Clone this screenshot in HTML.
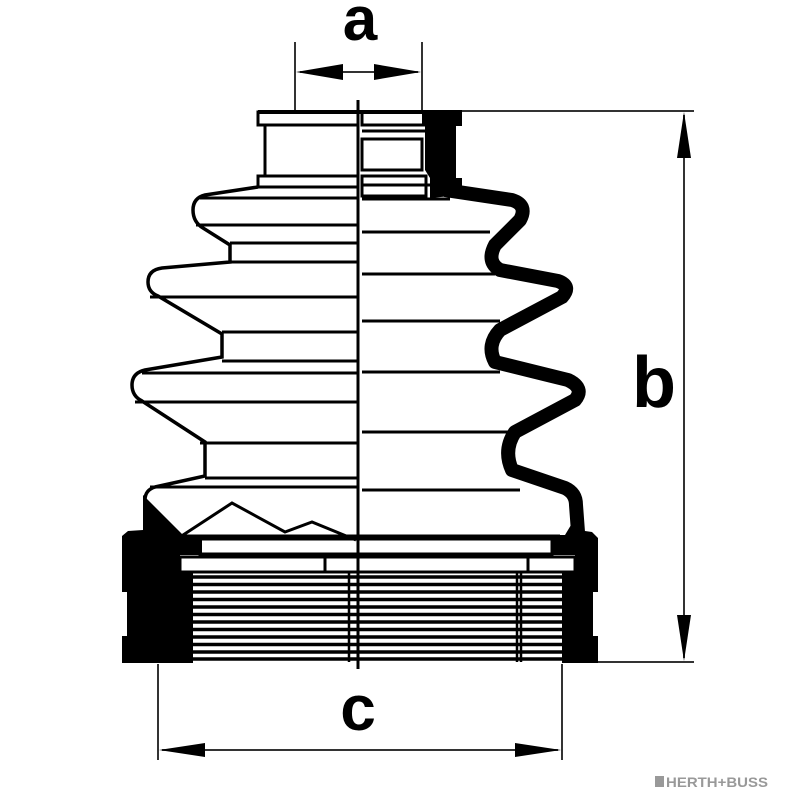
<!DOCTYPE html>
<html><head><meta charset="utf-8"><style>html,body{margin:0;padding:0;background:#fff}svg{display:block}</style></head>
<body>
<svg width="800" height="800" viewBox="0 0 800 800" xmlns="http://www.w3.org/2000/svg">
<rect width="800" height="800" fill="#fff"/>
<!-- dimension a -->
<g stroke="#333" stroke-width="2">
<line x1="295" y1="42" x2="295" y2="110"/><line x1="422" y1="42" x2="422" y2="110"/>
<line x1="300" y1="72" x2="418" y2="72"/>
</g>
<polygon points="296,72 343,64 343,80" fill="#000"/>
<polygon points="421,72 374,64 374,80" fill="#000"/>
<text x="360" y="40" font-family="Liberation Sans, sans-serif" font-weight="bold" font-size="62" text-anchor="middle">a</text>
<!-- dimension b -->
<g stroke="#333" stroke-width="2">
<line x1="455" y1="111" x2="694" y2="111"/><line x1="598" y1="662" x2="694" y2="662"/>
<line x1="684" y1="115" x2="684" y2="658"/>
</g>
<polygon points="684,112 677,158 691,158" fill="#000"/>
<polygon points="684,661 677,615 691,615" fill="#000"/>
<text x="654" y="407" font-family="Liberation Sans, sans-serif" font-weight="bold" font-size="72" text-anchor="middle">b</text>
<!-- dimension c -->
<g stroke="#333" stroke-width="2">
<line x1="158" y1="664" x2="158" y2="760"/><line x1="562" y1="664" x2="562" y2="760"/>
<line x1="162" y1="750" x2="558" y2="750"/>
</g>
<polygon points="159,750 205,743 205,757" fill="#000"/>
<polygon points="561,750 515,743 515,757" fill="#000"/>
<text x="358" y="730" font-family="Liberation Sans, sans-serif" font-weight="bold" font-size="64" text-anchor="middle">c</text>
<!-- logo -->
<rect x="655" y="776" width="9" height="11" fill="#999"/>
<text x="666" y="787" font-family="Liberation Sans, sans-serif" font-weight="bold" font-size="14" fill="#999" textLength="102" lengthAdjust="spacingAndGlyphs">HERTH+BUSS</text>

<!-- left outline -->
<path d="M258,187 L205,195 Q193,198 193,210 Q193,222 203,228 L230,245 L230,262 L162,268 Q148,270 148,282 Q148,292 158,296 L222,334 L222,357 L145,370 Q132,373 132,385 Q132,396 142,401 L205,442 L205,476 L155,487 Q145,490 145,500" fill="none" stroke="#000" stroke-width="3.5"/>
<!-- top cap -->
<g fill="#fff" stroke="#000" stroke-width="3">
<rect x="258" y="112" width="100" height="13"/>
<rect x="265" y="125" width="93" height="51"/>
<rect x="258" y="176" width="100" height="11"/>
<rect x="362" y="112" width="62" height="13"/>
<rect x="362" y="139" width="60" height="31"/>
<rect x="362" y="176" width="64" height="20"/>
</g>
<g stroke="#000" stroke-width="3">
<line x1="258" y1="112" x2="440" y2="112" stroke-width="4"/>
<line x1="200" y1="198" x2="358" y2="198"/>
<line x1="196" y1="225" x2="358" y2="225"/>
<line x1="230" y1="243" x2="358" y2="243"/>
<line x1="230" y1="262" x2="358" y2="262"/>
<line x1="150" y1="297" x2="358" y2="297"/>
<line x1="222" y1="332" x2="358" y2="332"/>
<line x1="222" y1="361" x2="358" y2="361"/>
<line x1="142" y1="373" x2="358" y2="373"/>
<line x1="135" y1="402" x2="358" y2="402"/>
<line x1="200" y1="443" x2="358" y2="443"/>
<line x1="205" y1="478" x2="358" y2="478"/>
<line x1="150" y1="487" x2="358" y2="487"/>
<line x1="362" y1="131" x2="425" y2="131"/>
<line x1="362" y1="185" x2="430" y2="185"/>
<line x1="362" y1="199" x2="450" y2="199"/>
<line x1="362" y1="232" x2="490" y2="232"/>
<line x1="362" y1="274" x2="495" y2="274"/>
<line x1="362" y1="321" x2="500" y2="321"/>
<line x1="362" y1="372" x2="500" y2="372"/>
<line x1="362" y1="432" x2="520" y2="432"/>
<line x1="362" y1="490" x2="520" y2="490"/>
</g>
<!-- right collar and wave -->
<polygon points="422,110 462,110 462,126 456,126 456,178 462,178 462,195 430,198 430,178 425,170 425,126 422,126" fill="#000"/>
<path d="M445,190 L512,200 Q528,205 520,220 L495,245 Q486,262 500,270 L558,281 Q572,286 562,297 L500,330 Q486,345 495,362 L568,380 Q585,388 575,400 L515,432 Q503,450 512,470 L565,488 Q576,493 576,505 L578,532" fill="none" stroke="#000" stroke-width="14" stroke-linejoin="round"/>
<!-- bottom band -->
<line x1="185" y1="536" x2="560" y2="536" stroke="#000" stroke-width="3"/>
<rect x="200" y="539" width="352" height="15" fill="#fff" stroke="#000" stroke-width="3"/>
<rect x="180" y="557" width="395" height="15" fill="#fff" stroke="#000" stroke-width="3"/>
<line x1="325" y1="557" x2="325" y2="572" stroke="#000" stroke-width="3"/>
<line x1="528" y1="557" x2="528" y2="572" stroke="#000" stroke-width="3"/>
<g stroke="#000" stroke-width="3.5">
<line x1="190" y1="577" x2="565" y2="577"/>
<line x1="190" y1="584.5" x2="565" y2="584.5"/>
<line x1="190" y1="592" x2="565" y2="592"/>
<line x1="190" y1="599.5" x2="565" y2="599.5"/>
<line x1="190" y1="607" x2="565" y2="607"/>
<line x1="190" y1="614.5" x2="565" y2="614.5"/>
<line x1="190" y1="622" x2="565" y2="622"/>
<line x1="190" y1="629.5" x2="565" y2="629.5"/>
<line x1="190" y1="637" x2="565" y2="637"/>
<line x1="190" y1="644.5" x2="565" y2="644.5"/>
<line x1="190" y1="652" x2="565" y2="652"/>
<line x1="190" y1="659" x2="565" y2="659"/>
</g>
<g stroke="#000" stroke-width="2.5">
<line x1="349" y1="572" x2="349" y2="662"/><line x1="517" y1="572" x2="517" y2="662"/><line x1="521" y1="572" x2="521" y2="662"/>
</g>
<path d="M180,537 L232,503 L285,532 L312,522 L356,540" fill="none" stroke="#000" stroke-width="3"/>
<polygon points="143,495 143,530 128,531 122,536 122,592 127,592 127,636 122,636 122,663 193,663 193,572 180,572 180,555 202,555 202,535 183,535" fill="#000"/>
<polygon points="571,525 578,525 578,530 592,532 598,538 598,592 593,592 593,636 598,636 598,663 562,663 562,572 575,572 575,555 552,555 552,535 565,535" fill="#000"/>
<line x1="598" y1="662" x2="610" y2="662" stroke="#333" stroke-width="2"/>
<line x1="358" y1="100" x2="358" y2="669" stroke="#000" stroke-width="3"/>
</svg>
</body></html>
